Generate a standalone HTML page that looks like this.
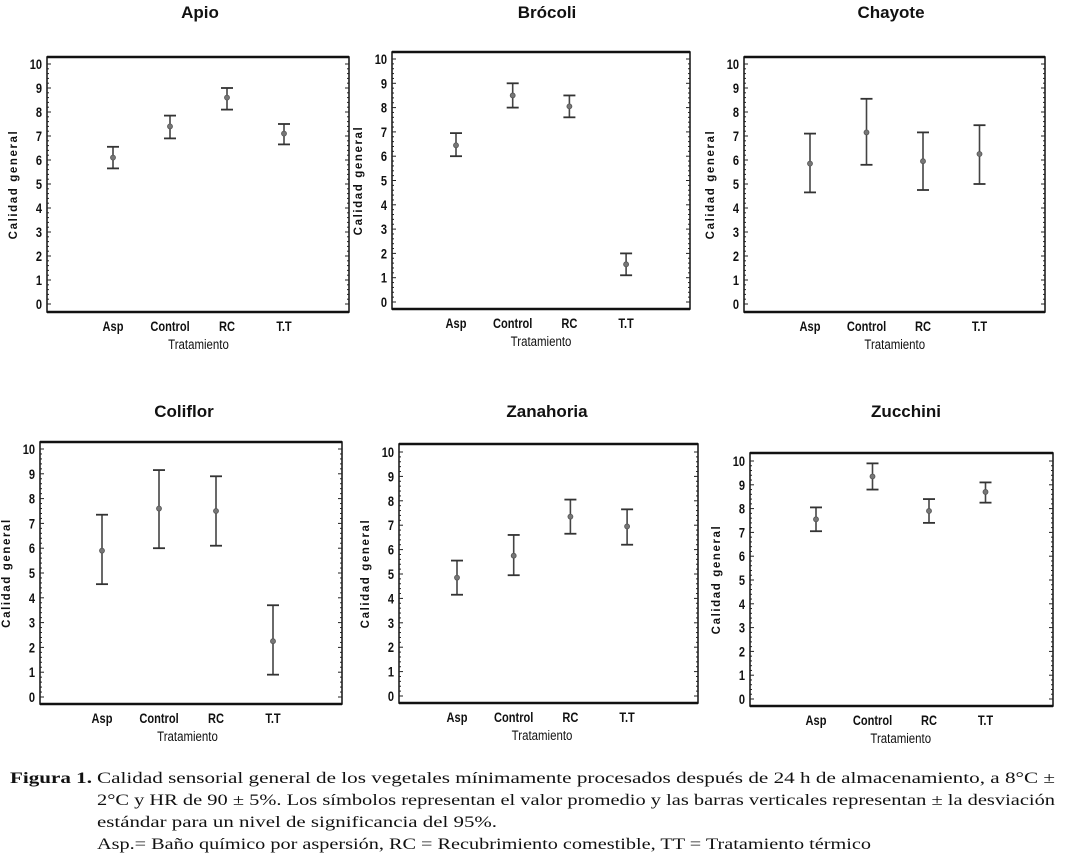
<!DOCTYPE html>
<html><head><meta charset="utf-8"><style>
html,body{margin:0;padding:0;background:#fff;width:1066px;height:861px;overflow:hidden}
svg{display:block}
.t{font-family:"Liberation Sans",sans-serif;font-weight:bold;font-size:17px;fill:#111}
.n{font-family:"Liberation Sans",sans-serif;font-weight:bold;font-size:13.5px;fill:#111}
.x{font-family:"Liberation Sans",sans-serif;font-size:13.5px;fill:#111}
.yl{font-family:"Liberation Sans",sans-serif;font-weight:bold;font-size:11.5px;letter-spacing:1.6px;fill:#111}
.c{font-family:"Liberation Serif",serif;font-size:15.5px;fill:#111}
</style></head><body>
<svg id="fig" width="1066" height="861" viewBox="0 0 1066 861">
<g id="charts"></g>
<g>
<text class="c" x="10" y="783" font-weight="bold" textLength="82" lengthAdjust="spacingAndGlyphs">Figura 1.</text>
<text class="c" x="97" y="783" textLength="958" lengthAdjust="spacingAndGlyphs">Calidad sensorial general de los vegetales mínimamente procesados después de 24 h de almacenamiento, a 8°C ±</text>
<text class="c" x="97" y="805" textLength="958" lengthAdjust="spacingAndGlyphs">2°C y HR de 90 ± 5%. Los símbolos representan el valor promedio y las barras verticales representan ± la desviación</text>
<text class="c" x="97" y="827" textLength="400" lengthAdjust="spacingAndGlyphs">estándar para un nivel de significancia del 95%.</text>
<text class="c" x="97" y="849" textLength="774" lengthAdjust="spacingAndGlyphs">Asp.= Baño químico por aspersión, RC = Recubrimiento comestible, TT = Tratamiento térmico</text>
</g>
</svg>
<script>
const categories = ["Asp","Control","RC","T.T"];
const titles = ["Apio","Brócoli","Chayote","Coliflor","Zanahoria","Zucchini"];
const yTicks = [0,1,2,3,4,5,6,7,8,9,10];
const meanApio = [6.1,7.4,8.6,7.1];
const lowApio = [5.65,6.9,8.1,6.65];
const highApio = [6.55,7.85,9.0,7.5];
const meanBrocoli = [6.45,8.5,8.05,1.55];
const lowBrocoli = [6.0,8.0,7.6,1.1];
const highBrocoli = [6.95,9.0,8.5,2.0];
const meanChayote = [5.85,7.15,5.95,6.25];
const lowChayote = [4.65,5.8,4.75,5.0];
const highChayote = [7.1,8.55,7.15,7.45];
const meanColiflor = [5.9,7.6,7.5,2.25];
const lowColiflor = [4.55,6.0,6.1,0.9];
const highColiflor = [7.35,9.15,8.9,3.7];
const meanZanahoria = [4.85,5.75,7.35,6.95];
const lowZanahoria = [4.15,4.95,6.65,6.2];
const highZanahoria = [5.55,6.6,8.05,7.65];
const meanZucchini = [7.55,9.35,7.9,8.7];
const lowZucchini = [7.05,8.8,7.4,8.25];
const highZucchini = [8.05,9.9,8.4,9.1];

const series = [
 [meanApio,lowApio,highApio],[meanBrocoli,lowBrocoli,highBrocoli],[meanChayote,lowChayote,highChayote],
 [meanColiflor,lowColiflor,highColiflor],[meanZanahoria,lowZanahoria,highZanahoria],[meanZucchini,lowZucchini,highZucchini]];
const layout = [
 {l:47,r:349,t:57,b:312,y0:304,y10:64,c0:113,cs:57,tx:200,ty:18},
 {l:392,r:690,t:52,b:309,y0:302,y10:59,c0:456,cs:56.7,tx:547,ty:18},
 {l:744,r:1045,t:57,b:312,y0:304,y10:64,c0:810,cs:56.5,tx:891,ty:18},
 {l:40,r:342,t:442,b:704,y0:697,y10:449,c0:102,cs:57,tx:184,ty:417},
 {l:399,r:698,t:444,b:703,y0:696,y10:452,c0:457,cs:56.7,tx:547,ty:417},
 {l:750,r:1053,t:453,b:706,y0:699,y10:461,c0:816,cs:56.5,tx:906,ty:417}];
const NS="http://www.w3.org/2000/svg";
const root=document.getElementById('charts');
function mk(tag,attrs,parent,txt){const e=document.createElementNS(NS,tag);for(const k in attrs)e.setAttribute(k,attrs[k]);if(txt!==undefined)e.textContent=txt;parent.appendChild(e);return e;}
layout.forEach((L,i)=>{
 const slug=titles[i].toLowerCase().normalize('NFD').replace(/[\u0300-\u036f]/g,'');
 const g=mk('g',{},root);
 
 
 const ys=v=>L.y0+(L.y10-L.y0)*v/10;
 const xs=k=>L.c0+L.cs*k;
 const tt=mk('text',{class:'t',x:L.tx,y:L.ty,'text-anchor':'middle'},g,titles[i]);
 
 
 const fr=mk('rect',{x:L.l,y:L.t,width:L.r-L.l,height:L.b-L.t,fill:'none',stroke:'#111','stroke-width':1.5},g);
 
 
 mk('line',{x1:L.l,x2:L.r,y1:L.t,y2:L.t,stroke:'#111','stroke-width':2.5},g);
 mk('line',{x1:L.l,x2:L.r,y1:L.b,y2:L.b,stroke:'#111','stroke-width':2.5},g);
 for(let v=0;v<=10.001;v+=0.2){const y=ys(v);const major=Math.abs(v-Math.round(v))<1e-6;const len=major?4:2;
  mk('line',{x1:L.l,x2:L.l+len,y1:y,y2:y,stroke:'#222','stroke-width':1},g);
  mk('line',{x1:L.r,x2:L.r-len,y1:y,y2:y,stroke:'#222','stroke-width':1},g);}
 yTicks.forEach(v=>{const e=mk('text',{class:'n',transform:`translate(${L.l-5},${ys(v)+5}) scale(0.82,1)`,'text-anchor':'end'},g,String(v));
  
  });
 const yl=mk('text',{class:'yl',transform:`translate(${L.l-30},${(L.t+L.b)/2}) rotate(-90)`,'text-anchor':'middle'},g,'Calidad general');
 
 
 categories.forEach((c,k)=>{const e=mk('text',{class:'x',transform:`translate(${xs(k)},${L.b+19}) scale(0.82,1)`,'text-anchor':'middle','font-weight':'bold'},g,c);
  
  });
 const xt=mk('text',{class:'x',transform:`translate(${(xs(1)+xs(2))/2},${L.b+37}) scale(0.85,1)`,'text-anchor':'middle'},g,'Tratamiento');
 
 
 const [m,lo,hi]=series[i];
 m.forEach((v,k)=>{const x=xs(k);const eg=mk('g',{},g);
  
  
  mk('line',{x1:x,x2:x,y1:ys(lo[k]),y2:ys(hi[k]),stroke:'#444','stroke-width':1.6},eg);
  mk('line',{x1:x-6,x2:x+6,y1:ys(lo[k]),y2:ys(lo[k]),stroke:'#333','stroke-width':1.8},eg);
  mk('line',{x1:x-6,x2:x+6,y1:ys(hi[k]),y2:ys(hi[k]),stroke:'#333','stroke-width':1.8},eg);
  const p=mk('circle',{cx:x,cy:ys(v),r:2.5,fill:'#777',stroke:'#555','stroke-width':0.8},eg);
  
  });
});
</script>
</body></html>
